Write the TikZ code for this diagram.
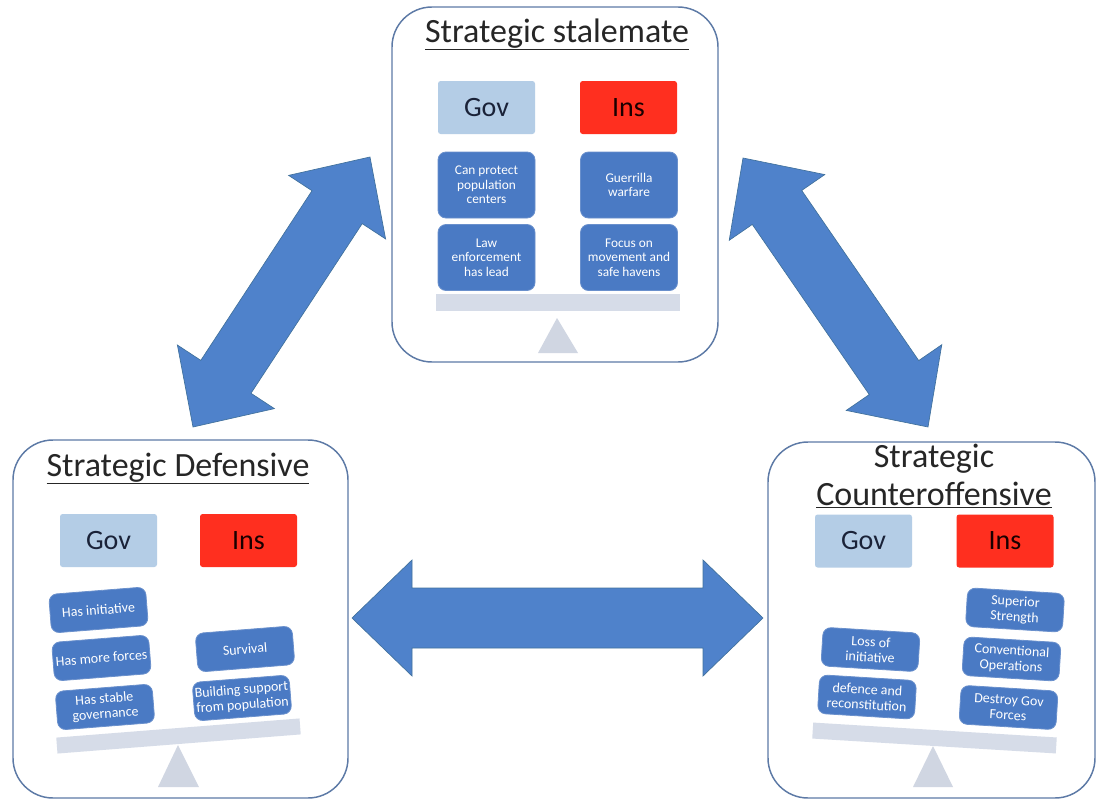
\documentclass[tikz,border=0pt]{standalone}
\usepackage{fontspec}
\setmainfont{Carlito}
\usetikzlibrary{calc}
\definecolor{govc}{HTML}{B4CDE6}
\definecolor{insc}{HTML}{FF2F1F}
\definecolor{itemc}{HTML}{4A7AC4}
\definecolor{itemb}{HTML}{6A90CC}
\definecolor{beamc}{HTML}{D6DCE8}
\definecolor{tric}{HTML}{D0D6E2}
\definecolor{framec}{HTML}{5D7AA6}
\definecolor{arrowc}{HTML}{4F82CB}
\definecolor{arrowb}{HTML}{41719C}
\definecolor{govtext}{HTML}{1A2238}
\newcommand{\dblarr}[2]{%
  \filldraw[fill=arrowc, draw=arrowb, line width=0.5pt, line join=miter]
    (#1)
    -- ($(#1)!45pt!(#2)!43.5pt!90:(#2)$)
    -- ($(#1)!45pt!(#2)!22.5pt!90:(#2)$)
    -- ($(#2)!45pt!(#1)!22.5pt!-90:(#1)$)
    -- ($(#2)!45pt!(#1)!43.5pt!-90:(#1)$)
    -- (#2)
    -- ($(#2)!45pt!(#1)!43.5pt!90:(#1)$)
    -- ($(#2)!45pt!(#1)!22.5pt!90:(#1)$)
    -- ($(#1)!45pt!(#2)!22.5pt!-90:(#2)$)
    -- ($(#1)!45pt!(#2)!43.5pt!-90:(#2)$)
    -- cycle;}
\begin{document}
\begin{tikzpicture}[x=0.75pt,y=-0.75pt,
  phase/.style={draw=framec, line width=1.1pt, rounded corners=30pt, fill=white, inner sep=0pt},
  titletext/.style={font=\fontsize{25.5}{28.5}\selectfont, text=black!85, align=center, inner sep=0pt},
  govbox/.style={fill=govc, minimum width=72.75pt, minimum height=39.75pt, rounded corners=2pt, inner sep=0pt, font=\fontsize{21}{25}\selectfont, text=govtext},
  insbox/.style={govbox, fill=insc, text=black!90!red},
  item/.style={fill=itemc, draw=itemb, line width=0.6pt, rounded corners=6pt, text=white, align=center, font=\fontsize{10}{11}\selectfont, minimum width=72.75pt, inner sep=0pt},
  itemtall/.style={item, minimum height=49.5pt},
  itemlow/.style={item, minimum height=29pt, font=\fontsize{10.5}{11.5}\selectfont},
  beam/.style={fill=beamc, minimum width=183pt, minimum height=12pt, inner sep=0pt},
  pivot/.style={fill=tric}
]
\useasboundingbox (0,0) rectangle (1097,803);

% frames
\node[phase, minimum width=244.5pt, minimum height=266.25pt] (top) at (555,184.5) {};
\node[phase, minimum width=251.25pt, minimum height=268.5pt] (left) at (180.5,619) {};
\node[phase, minimum width=245.25pt, minimum height=267pt] (right) at (931.5,620) {};

% arrows
\coordinate (lA) at (193,427);
\coordinate (lB) at (370,157);
\coordinate (rA) at (743,158);
\coordinate (rB) at (928,427);
\coordinate (hA) at (352,618);
\coordinate (hB) at (763,618);
\dblarr{lA}{lB}
\dblarr{rA}{rB}
\dblarr{hA}{hB}

% ---------- top: stalemate
\node[titletext, anchor=base] (t1) at (557,42) {\underline{Strategic stalemate}};
\node[govbox] (gov1) at (486.5,107.5) {Gov};
\node[insbox] (ins1) at (628.5,107.5) {Ins};
\node[itemtall] (g1a) at (486.5,185) {Can protect\\population\\centers};
\node[itemtall] (g1b) at (486.5,257.5) {Law\\enforcement\\has lead};
\node[itemtall] (i1a) at (629,185) {Guerrilla\\warfare};
\node[itemtall] (i1b) at (629,257.5) {Focus on\\movement and\\safe havens};
\node[beam, minimum height=12.75pt] (b1) at (557.5,302.5) {};
\fill[pivot] (557,318) -- (538,353) -- (578,353) -- cycle;

% ---------- left: defensive
\node[titletext, anchor=base] (t2) at (178,476) {\underline{Strategic Defensive}};
\node[govbox] (gov2) at (108.5,540.5) {Gov};
\node[insbox] (ins2) at (248.5,540.5) {Ins};
\node[itemlow, rotate=4.5] (g2a) at (98.5,610) {Has initiative};
\node[itemlow, rotate=4.5] (g2b) at (101.5,658) {Has more forces};
\node[itemlow, rotate=4.5] (g2c) at (105,707) {Has stable\\governance};
\node[itemlow, rotate=4.5] (i2a) at (245,649) {Survival};
\node[itemlow, rotate=4.5] (i2b) at (242,698) {Building support\\from population};
\node[beam, rotate=4.5] (b2) at (178.5,736) {};
\fill[pivot] (178,745) -- (158,787) -- (199,787) -- cycle;

% ---------- right: counteroffensive
\node[titletext] (t3) at (934,476) {Strategic\\\underline{Counteroffensive}};
\node[govbox] (gov3) at (863.5,541) {Gov};
\node[insbox] (ins3) at (1005,541) {Ins};
\node[itemlow, rotate=-3.5] (g3a) at (870.5,649.5) {Loss of\\initiative};
\node[itemlow, rotate=-3.5] (g3b) at (867,697) {defence and\\reconstitution};
\node[itemlow, rotate=-3.5] (i3a) at (1015,610) {Superior\\Strength};
\node[itemlow, rotate=-3.5] (i3b) at (1011.5,659) {Conventional\\Operations};
\node[itemlow, rotate=-3.5] (i3c) at (1008.5,707.5) {Destroy Gov\\Forces};
\node[beam, rotate=-3.5] (b3) at (934.5,738) {};
\fill[pivot] (933,746) -- (913,787) -- (953,787) -- cycle;
\end{tikzpicture}
\end{document}
